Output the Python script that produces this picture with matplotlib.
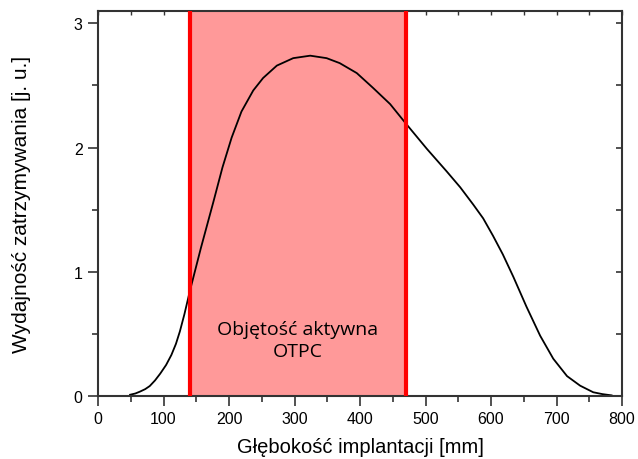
import matplotlib
matplotlib.use("Agg")
import matplotlib.pyplot as plt
from matplotlib.ticker import MultipleLocator

depth = [49, 57, 64, 72, 79, 87, 95, 104, 112, 119, 125, 132, 140, 157, 176, 190, 204, 219,
         237, 252, 273, 298, 324, 349, 369, 395, 420, 446, 469, 502, 532, 553, 573, 588,
         603, 618, 634, 654, 675, 695, 716, 736, 756, 770, 784]
yield_ = [0.01, 0.02, 0.035, 0.055, 0.08, 0.125, 0.18, 0.25, 0.33, 0.42, 0.52, 0.66, 0.84,
          1.19, 1.56, 1.84, 2.08, 2.29, 2.46, 2.56, 2.66, 2.72, 2.74, 2.72, 2.68, 2.60, 2.48,
          2.35, 2.20, 1.99, 1.81, 1.68, 1.54, 1.43, 1.29, 1.14, 0.96, 0.72, 0.485, 0.30, 0.16,
          0.083, 0.03, 0.015, 0.005]
region = [140, 470]
label_text = "Objętość aktywna\nOTPC"
xlabel = "Głębokość implantacji [mm]"
ylabel = "Wydajność zatrzymywania [j. u.]"

plt.rcParams['font.family'] = ['Liberation Sans', 'DejaVu Sans']
fig = plt.figure(figsize=(6.38, 4.6), dpi=100)
ax = fig.add_axes([0.1536, 0.137, 0.8214, 0.837])

ax.axvspan(region[0], region[1], color='#ff9999', lw=0, zorder=1)
ax.plot(depth, yield_, color='black', lw=1.3, zorder=2, solid_joinstyle='round')
for xv in region:
    ax.axvline(xv, color='#ff0000', lw=3.0, zorder=3)

ax.text(sum(region) / 2, 0.45, label_text, ha='center', va='center', fontsize=14,
        family=['Open Sans', 'DejaVu Sans'], linespacing=1.3, zorder=4)

ax.set_xlim(0, 800)
ax.set_ylim(0, 3.1)
ax.xaxis.set_major_locator(MultipleLocator(100))
ax.xaxis.set_minor_locator(MultipleLocator(50))
ax.yaxis.set_major_locator(MultipleLocator(1))
ax.yaxis.set_minor_locator(MultipleLocator(0.5))
ax.tick_params(which='major', direction='out', length=7, width=1.2, labelsize=11.5,
               colors='#333333', labelcolor='black', pad=4)
ax.tick_params(which='minor', direction='out', length=4, width=1.2, colors='#333333')

for s in ax.spines.values():
    s.set_linewidth(1.5)
    s.set_color('#333333')

top = ax.secondary_xaxis('top')
top.xaxis.set_major_locator(MultipleLocator(100))
top.xaxis.set_minor_locator(MultipleLocator(50))
top.tick_params(which='both', direction='in', length=3, width=1.0, labeltop=False, colors='#333333')
top.spines['top'].set_visible(False)
right = ax.secondary_yaxis('right')
right.yaxis.set_major_locator(MultipleLocator(0.5))
right.yaxis.set_minor_locator(MultipleLocator(0.5))
right.tick_params(which='both', direction='in', length=4, width=1.2, labelright=False, colors='#333333')
right.spines['right'].set_visible(False)

ax.set_xlabel(xlabel, fontsize=14.5, labelpad=8)
ax.set_ylabel(ylabel, fontsize=15, labelpad=31)

fig.savefig("out.png", dpi=100)
